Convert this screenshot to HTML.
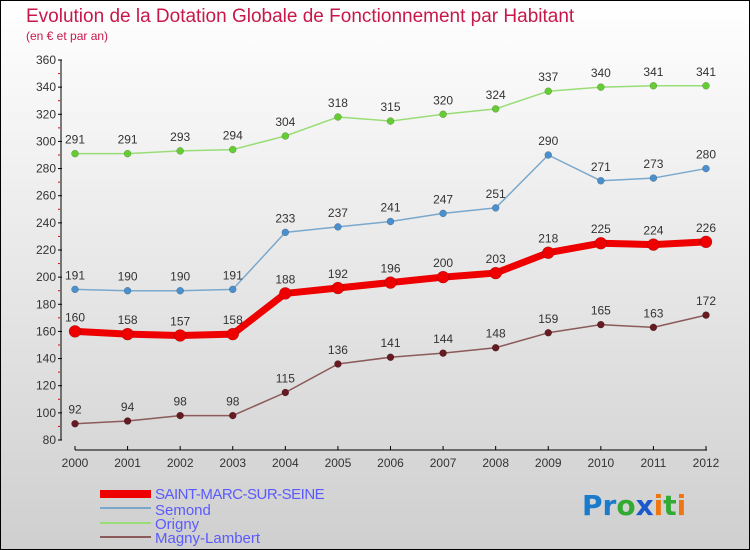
<!DOCTYPE html>
<html><head><meta charset="utf-8"><style>
body{margin:0}
svg{display:block;font-family:"Liberation Sans",sans-serif}
</style></head><body>
<svg id="chart" width="750" height="550" viewBox="0 0 750 550" xmlns="http://www.w3.org/2000/svg">
<defs><linearGradient id="bg" x1="0" y1="0" x2="0" y2="1"><stop offset="0" stop-color="#ffffff"/><stop offset="1" stop-color="#cfcfcf"/></linearGradient></defs>
<rect x="0.5" y="0.5" width="749" height="549" fill="url(#bg)" stroke="#000"/>
<text x="26" y="22" font-size="19" fill="#c8184a">Evolution de la Dotation Globale de Fonctionnement par Habitant</text>
<text x="26" y="40" font-size="12" fill="#c8184a">(en € et par an)</text>
<g id="axes"></g><g id="series"></g>
<g font-size="15" fill="#5a5aff">
<rect x="100" y="490" width="51" height="8" fill="#e00"/>
<text x="155" y="499" letter-spacing="-0.5">SAINT-MARC-SUR-SEINE</text>
<rect x="100" y="507" width="51" height="2" fill="#7aa8cc"/>
<text x="155" y="515">Semond</text>
<rect x="100" y="522" width="51" height="2" fill="#99dd77"/>
<text x="155" y="529">Origny</text>
<rect x="100" y="536" width="51" height="2" fill="#8b5a5a"/>
<text x="155" y="543">Magny-Lambert</text>
</g>
<g font-size="28" font-weight="bold" font-family="'DejaVu Sans',sans-serif">
<text x="582" y="515"><tspan fill="#1a7acc">Pr</tspan><tspan fill="#33aa33">o</tspan><tspan fill="#1a5acc">x</tspan><tspan fill="#ee7711">i</tspan><tspan fill="#33aa33">t</tspan><tspan fill="#ee7711">i</tspan></text>
</g>
</svg>
<script>
const years=["2000","2001","2002","2003","2004","2005","2006","2007","2008","2009","2010","2011","2012"];
const yTicks=[80,100,120,140,160,180,200,220,240,260,280,300,320,340,360];
const saintMarc=[160,158,157,158,188,192,196,200,203,218,225,224,226];
const semond=[191,190,190,191,233,237,241,247,251,290,271,273,280];
const origny=[291,291,293,294,304,318,315,320,324,337,340,341,341];
const magny=[92,94,98,98,115,136,141,144,148,159,165,163,172];
const NS="http://www.w3.org/2000/svg";
function X(i){return 75+i*(706-75)/12;}
function Y(v){return 440-(v-80)*380/280;}
function mk(tag,attrs,parent){const e=document.createElementNS(NS,tag);for(const k in attrs)e.setAttribute(k,attrs[k]);parent.appendChild(e);return e;}
const ax=document.getElementById('axes');
mk('line',{x1:61,y1:60,x2:61,y2:440,stroke:'#000','stroke-width':1},ax);
mk('line',{x1:75,y1:450,x2:707,y2:450,stroke:'#000','stroke-width':1},ax);
yTicks.forEach(v=>{
 mk('line',{x1:58,y1:Y(v),x2:62,y2:Y(v),stroke:'#000'},ax);
 if(v<360) mk('line',{x1:58,y1:Y(v+10),x2:60,y2:Y(v+10),stroke:'#e00'},ax);
 const t=mk('text',{x:56,y:Y(v)+4,'font-size':12,'text-anchor':'end',fill:'#333'},ax);
 
 
 t.textContent=v;
});
years.forEach((y,i)=>{
 mk('line',{x1:X(i),y1:446,x2:X(i),y2:450,stroke:'#000'},ax);
 const t=mk('text',{x:X(i),y:467,'font-size':12,'text-anchor':'middle',fill:'#333'},ax);
 
 
 t.textContent=y;
});
const sg=document.getElementById('series');
function draw(name,vals,color,dot,w,r){
 const g=mk('g',{},sg);
 
 
 mk('polyline',{points:vals.map((v,i)=>X(i)+','+Y(v)).join(' '),fill:'none',stroke:color,'stroke-width':w,'stroke-linejoin':'round'},g);
 vals.forEach((v,i)=>{
  const c=mk('circle',{cx:X(i),cy:Y(v),r:r,fill:dot,stroke:'rgba(0,0,0,0.3)','stroke-width':0.5},g);
  
  
  const t=mk('text',{x:X(i),y:Y(v)-10,'font-size':12,'text-anchor':'middle',fill:'#333'},g);
  
  
  t.textContent=v;
 });
}
draw('origny',origny,'#99dd77','#66cc33',1.5,3.5);
draw('semond',semond,'#7aa8cc','#4a90cc',1.5,3.5);
draw('magny',magny,'#8b5a5a','#661a22',1.5,3.5);
draw('saint-marc',saintMarc,'#ee0000','#ee0000',7,6);
</script>
</body></html>
